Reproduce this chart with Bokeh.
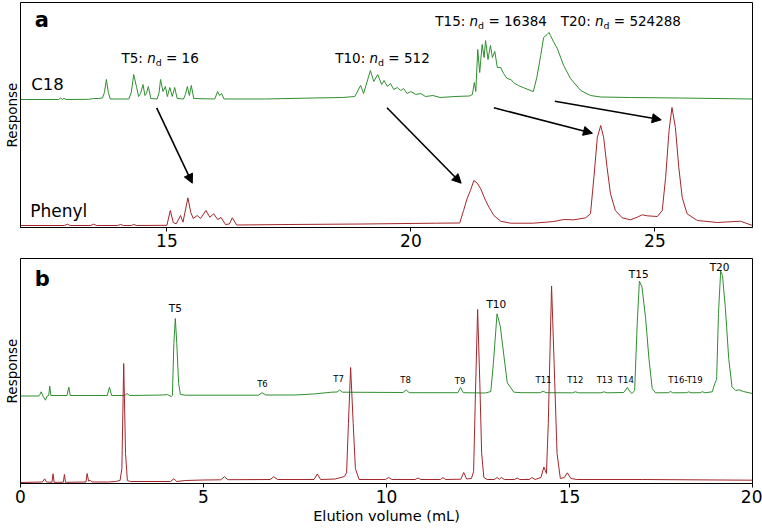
from bokeh.plotting import figure
from bokeh.layouts import column
from bokeh.models import Range1d, Label, Arrow, NormalHead, FixedTicker
from bokeh.embed import file_html
from bokeh.resources import INLINE

# ---------------- data: panel a (two columns, 12-27 mL) ----------------
a_c18_x = [12.0, 12.78, 12.82, 12.86, 12.89, 12.93, 13.40, 13.50, 13.60, 13.68, 13.72, 13.76, 13.80, 13.84,
           14.22, 14.27, 14.32, 14.38, 14.42, 14.46, 14.51, 14.55, 14.58, 14.62, 14.67, 14.80, 14.84, 14.87,
           14.92, 14.97, 15.01, 15.06, 15.11, 15.16, 15.21, 15.34, 15.38, 15.42, 15.46, 15.50, 15.55, 15.98,
           16.04, 16.08, 16.12, 16.17, 17.0, 18.0, 18.6, 18.85, 18.97, 19.03, 19.17, 19.24, 19.32, 19.40,
           19.45, 19.52, 19.58, 19.65, 19.72, 19.79, 19.85, 19.92, 20.0, 20.1, 20.2, 20.3, 20.45, 20.6, 20.9,
           21.2, 21.26, 21.30, 21.33, 21.37, 21.41, 21.46, 21.50, 21.53, 21.58, 21.63, 21.67, 21.72, 21.77,
           21.84, 21.90, 21.97, 22.05, 22.10, 22.2, 22.3, 22.4, 22.51, 22.58, 22.66, 22.72, 22.79, 22.83,
           22.86, 22.92, 23.00, 23.13, 23.27, 23.48, 23.68, 23.89, 24.5, 25.5, 27.0]
a_c18_y = [128, 128, 129.5, 128, 129.3, 128, 128.2, 129, 129, 129.5, 135, 148, 135, 128.5,
           128.5, 135, 153, 140, 131, 134, 143, 132, 134, 141, 129, 128.5, 135, 148,
           136, 141, 131, 140, 131, 140, 129, 128.5, 133, 141, 132, 142, 129, 128.5,
           136, 132, 134, 128.5, 128.5, 129.5, 130, 131, 142, 134, 157, 146, 153, 143,
           147, 141, 144, 138, 140, 137, 139, 134, 136, 133, 134, 131, 132, 130, 131,
           131.5, 133, 145, 136, 178, 155, 183, 170, 187, 168, 182, 170, 176, 160,
           160, 154, 149, 148, 145, 142, 140, 138, 136, 150, 172, 190, 193, 195,
           192, 186, 179, 162, 149, 137, 132, 130.5, 130, 129.5, 128.5]

a_ph_x = [12.0, 12.90, 12.96, 13.02, 13.44, 13.50, 13.56, 13.99, 14.05, 14.11, 14.27, 14.32, 14.38, 15.0,
          15.07, 15.13, 15.19, 15.28, 15.33, 15.43, 15.49, 15.54, 15.62, 15.69, 15.80, 15.88, 15.96, 16.04,
          16.11, 16.20, 16.28, 16.34, 16.43, 17.5, 19.0, 20.5, 21.0, 21.08, 21.15, 21.22, 21.29, 21.36,
          21.43, 21.53, 21.60, 21.70, 21.84, 22.04, 22.51, 22.93, 23.13, 23.34, 23.58, 23.68, 23.75, 23.82,
          23.89, 23.95, 24.02, 24.09, 24.19, 24.33, 24.50, 24.64, 24.74, 24.84, 25.05, 25.15, 25.22, 25.29,
          25.35, 25.42, 25.49, 25.56, 25.66, 25.87, 26.28, 26.75, 27.0]
a_ph_y = [2, 2, 3.3, 2, 2, 3.3, 2, 2, 3, 2, 2, 3, 2, 2.2,
          17, 5, 3.7, 12, 5.3, 29.7, 15, 9, 12, 9, 17, 10.3, 13.7, 8,
          10, 3, 3.5, 9.7, 2.5, 3, 3.5, 4.3, 4.5, 17, 28.7, 37, 47, 44.3,
          38.7, 27, 20.3, 12, 6.3, 4.3, 4.3, 6, 8, 7.7, 9.7, 13.7, 50, 90,
          102, 90, 60, 33.7, 17, 9.7, 7.7, 10.3, 12.7, 11.7, 11, 17, 50, 97,
          120, 100, 60, 30, 13.7, 7, 5, 6.3, 2]

a_names = ["T5", "T10", "T15", "T20"]
a_nd = [16, 512, 16384, 524288]
a_label_x = [14.07, 18.45, 20.50, 23.07]
a_label_y = [165, 165, 202, 202]
# arrows: C18 peak group -> Phenyl peak group
arrow_x0 = [14.79, 19.51, 21.70, 22.95]
arrow_y0 = [119.7, 119.7, 119.7, 126.3]
arrow_x1 = [15.52, 21.03, 23.72, 25.13]
arrow_y1 = [44.3, 44.3, 94.3, 107.7]

# ---------------- data: panel b (0-20 mL) ----------------
b_c18_x = [0.0, 0.50, 0.53, 0.565, 0.62, 0.68, 0.73, 0.77, 0.80, 0.83, 1.27, 1.32, 1.36, 2.37, 2.43, 2.49,
           2.85, 2.91, 2.98, 3.9, 4.01, 4.12, 4.15, 4.19, 4.23, 4.27, 4.32, 4.37, 4.5, 6.50, 6.60, 6.70,
           7.5, 8.0, 8.5, 8.65, 8.72, 8.80, 10.45, 10.54, 10.62, 11.95, 12.02, 12.10, 12.7, 12.85, 12.92,
           13.02, 13.11, 13.21, 13.30, 13.48, 13.7, 14.2, 14.28, 14.36, 15.08, 15.16, 15.25, 15.86, 15.94,
           16.02, 16.48, 16.58, 16.66, 16.71, 16.78, 16.85, 16.91, 16.98, 17.08, 17.17, 17.26, 17.35, 17.70,
           17.76, 17.82, 18.20, 18.26, 18.32, 18.57, 18.63, 18.70, 18.90, 18.97, 19.02, 19.07, 19.13, 19.18,
           19.26, 19.35, 19.44, 19.54, 19.63, 19.75, 20.0]
b_c18_y = [87.5, 87.5, 89, 91.7, 87, 83.3, 87.5, 88, 97.3, 88, 88, 96.3, 88, 88, 96.3, 88,
           88, 90, 88, 88.5, 89, 87, 88, 140, 165, 140, 100, 89, 88.3, 88.3, 90.7, 88.5,
           88.5, 89.5, 91.3, 91.5, 93.5, 91.3, 91, 93.5, 90.8, 90.8, 96, 90.8, 90.5, 92, 120,
           169.7, 157, 127, 100.7, 91.3, 90.8, 90.8, 92.3, 90.8, 90.7, 91.7, 90.7, 90.7, 91.7,
           90.7, 91, 96, 91.5, 90, 93, 160, 202.3, 196.7, 165, 125, 95, 90.7, 90.8,
           92, 90.7, 90.8, 91.7, 90.7, 90.8, 91.8, 90.7, 91.7, 100, 104, 170, 212.3, 208,
           175, 125, 96.7, 93, 93.7, 92, 90]

b_ph_x = [0.0, 0.6, 0.66, 0.71, 0.86, 0.89, 0.92, 1.17, 1.20, 1.23, 1.79, 1.82, 1.86, 1.91, 1.96, 2.4,
          2.6, 2.72, 2.77, 2.82, 2.87, 2.92, 3.0, 4.1, 4.19, 4.27, 4.5, 5.0, 5.47, 5.57, 5.67, 6.82, 6.92,
          7.02, 8.02, 8.11, 8.20, 8.6, 8.85, 8.91, 8.96, 9.02, 9.09, 9.15, 9.25, 9.97, 10.06, 10.15, 10.78,
          10.86, 10.94, 11.47, 11.54, 11.62, 12.03, 12.11, 12.19, 12.32, 12.38, 12.43, 12.49, 12.55, 12.60,
          12.66, 12.75, 12.95, 13.02, 13.08, 13.14, 13.22, 13.50, 13.57, 13.64, 13.90, 13.98, 14.06, 14.22,
          14.30, 14.37, 14.42, 14.51, 14.58, 14.66, 14.75, 14.86, 14.94, 15.04, 15.2, 17.0, 20.0]
b_ph_y = [1, 1.5, 4.7, 1.5, 1.2, 9.7, 1.2, 1.2, 9, 1.2, 1.5, 10, 2.5, 3, 1.5, 1.5,
          2, 3, 15, 120, 30, 3, 2, 2, 4.7, 2, 3, 3.5, 3.7, 6.7, 3.8, 4, 6.7,
          4, 4, 9.5, 4, 4.5, 7, 10.7, 60, 116, 60, 15, 4, 4, 6, 4, 4,
          5.5, 4, 4, 5.8, 4, 4.3, 11, 4.5, 5, 12, 90, 174, 100, 30,
          6, 4, 4, 6, 4.2, 6, 4, 4, 5.5, 4, 4, 6, 4, 6,
          16.5, 10, 60, 197.5, 120, 30, 5, 6, 10.7, 5, 4, 4, 3.3]

b_names = ["T5", "T6", "T7", "T8", "T9", "T10", "T11", "T12", "T13", "T14", "T15", "T16-T19", "T20"]
b_label_x = [4.23, 6.61, 8.69, 10.52, 12.01, 13.0, 14.29, 15.16, 15.96, 16.54, 16.89, 18.17, 19.1]
b_label_y = [172, 97, 102, 101, 100, 176, 101, 101, 101, 101, 206, 101, 213]
b_major = ["T5", "T10", "T15", "T20"]

ticks_a = [15, 20, 25]
ticks_b = [0, 5, 10, 15, 20]

GREEN = "#2f8f2f"
RED = "#a3262a"
FONT = "DejaVu Sans"

# DejaVu Sans advance widths (em)
W = {' ': 0.318, ':': 0.337, '=': 0.838, 'T': 0.611, 'n': 0.634, 'd': 0.635, '-': 0.361}


def tw(s, size):
    return sum(W.get(c, 0.636) for c in s) * size


def base_fig(height, xr, bottom, top):
    p = figure(width=762, height=height, x_range=Range1d(*xr), y_range=Range1d(0, 225),
               output_backend="svg", toolbar_location=None,
               min_border_left=20, min_border_right=10, min_border_top=top, min_border_bottom=bottom)
    p.xgrid.visible = False
    p.ygrid.visible = False
    p.outline_line_color = "black"
    p.outline_line_width = 1
    p.outline_line_alpha = 1
    ax = p.xaxis[0]
    ax.axis_line_color = "black"
    ax.major_tick_line_color = "black"
    ax.major_tick_in = 0
    ax.major_tick_out = 4
    ax.minor_tick_line_color = None
    ax.major_label_standoff = 2
    ax.major_label_text_font = FONT
    ax.major_label_text_font_size = "17px"
    ax.major_label_text_color = "black"
    ax.axis_label_text_font = FONT
    ax.axis_label_text_font_style = "normal"
    ax.axis_label_text_font_size = "14.5px"
    ax.axis_label_text_color = "black"
    ax.axis_label_standoff = 2
    ay = p.yaxis[0]
    ay.ticker = FixedTicker(ticks=[])
    ay.axis_line_color = None
    ay.major_tick_in = 0
    ay.major_tick_out = 0
    ay.minor_tick_in = 0
    ay.minor_tick_out = 0
    ay.major_label_standoff = 0
    ay.axis_label = "Response"
    ay.axis_label_text_font = FONT
    ay.axis_label_text_font_style = "normal"
    ay.axis_label_text_font_size = "13.5px"
    ay.axis_label_text_color = "black"
    ay.axis_label_standoff = 1
    p.background_fill_color = "white"
    p.border_fill_color = "white"
    return p


def lab(p, x, y, text, size, style="normal", align="left", xoff=0):
    # y is the text baseline; anchor the label at the middle of the text box
    p.add_layout(Label(x=x, y=y + 0.35 * size, x_offset=xoff, text=text, text_font=FONT,
                       text_font_style=style, text_font_size=f"{size}px", text_align=align,
                       text_baseline="middle", text_color="black"))


def nd_label(p, name, nd, x, y, fs=13.5):
    segs = [(f"{name}: ", "normal", fs, 0.0), ("n", "italic", fs, 0.0),
            ("d", "normal", round(fs * 0.7, 1), -3.0), (f" = {nd}", "normal", fs, 0.0)]
    off = 0.0
    for text, style, size, dy in segs:
        pos = off
        for tok in text.split(" "):
            if tok:
                lab(p, x, y + dy, tok, size, style, xoff=pos)
            pos += tw(tok + " ", size)
        off += tw(text, size)


# ---------------- panel a ----------------
pa = base_fig(258, (12, 27), 31, 2)
pa.xaxis.ticker = FixedTicker(ticks=ticks_a)
pa.line(a_c18_x, a_c18_y, line_color=GREEN, line_width=1)
pa.line(a_ph_x, a_ph_y, line_color=RED, line_width=1)
for x0, y0, x1, y1 in zip(arrow_x0, arrow_y0, arrow_x1, arrow_y1):
    pa.add_layout(Arrow(x_start=x0, y_start=y0, x_end=x1, y_end=y1, line_width=1.6, line_color="black",
                        end=NormalHead(size=9, fill_color="black", line_color="black")))
for name, nd, x, y in zip(a_names, a_nd, a_label_x, a_label_y):
    nd_label(pa, name, nd, x, y)
lab(pa, 12.29, 200, "a", 21, "bold")
lab(pa, 12.22, 137, "C18", 16.5)
lab(pa, 12.2, 11, "Phenyl", 17)

# ---------------- panel b ----------------
pb = base_fig(271, (0, 20), 46, 0)
pb.xaxis.ticker = FixedTicker(ticks=ticks_b)
pb.xaxis.axis_label = "Elution volume (mL)"
pb.line(b_c18_x, b_c18_y, line_color=GREEN, line_width=1)
pb.line(b_ph_x, b_ph_y, line_color=RED, line_width=1)
for name, x, y in zip(b_names, b_label_x, b_label_y):
    lab(pb, x, y, name, 10.5 if name in b_major else 8.5, align="center")
lab(pb, 0.39, 197, "b", 21, "bold")

out = column(pa, pb)
open("out.html", "w").write(file_html(out, INLINE))
